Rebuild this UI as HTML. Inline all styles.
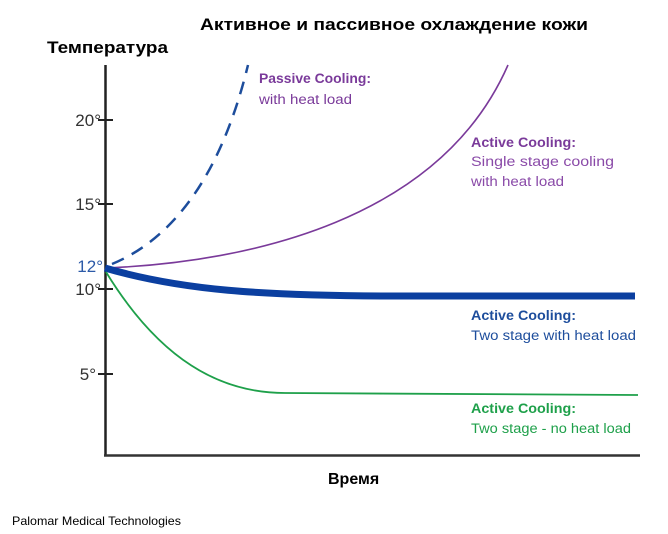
<!DOCTYPE html>
<html><head><meta charset="utf-8"><style>
html,body{margin:0;padding:0;background:#fff;}
svg{display:block;}
</style></head><body>
<svg width="668" height="534" viewBox="0 0 668 534" xmlns="http://www.w3.org/2000/svg">
<text x="394" y="30" text-anchor="middle" font-family="Liberation Sans, sans-serif" font-weight="bold" font-size="17" textLength="388" lengthAdjust="spacingAndGlyphs" fill="#000">Активное и пассивное охлаждение кожи</text>
<text x="47" y="53" font-family="Liberation Sans, sans-serif" font-weight="bold" font-size="17" textLength="121" lengthAdjust="spacingAndGlyphs" fill="#000">Температура</text>
<text x="328" y="484" font-family="Liberation Sans, sans-serif" font-weight="bold" font-size="16" fill="#000">Время</text>
<text x="12" y="525" font-family="Liberation Sans, sans-serif" font-size="12" textLength="169" lengthAdjust="spacingAndGlyphs" fill="#000">Palomar Medical Technologies</text>
<!-- axes -->
<line x1="105.5" y1="65" x2="105.5" y2="456" stroke="#222" stroke-width="2.5"/>
<line x1="104" y1="455.5" x2="640" y2="455.5" stroke="#333" stroke-width="2.5"/>
<g stroke="#222" stroke-width="2">
<line x1="98" y1="120" x2="113" y2="120"/>
<line x1="98" y1="204" x2="113" y2="204"/>
<line x1="98" y1="289" x2="113" y2="289"/>
<line x1="98" y1="374" x2="113" y2="374"/>
</g>
<g font-family="Liberation Sans, sans-serif" font-size="17" fill="#333" text-anchor="end">
<text x="101" y="126">20°</text>
<text x="101" y="210">15°</text>
<text x="101" y="295">10°</text>
<text x="96" y="380">5°</text>
<text x="103" y="272" fill="#2c5aa8">12°</text>
</g>
<!-- curves -->
<path d="M112 264 C170 240 220 180 248 65" fill="none" stroke="#1d4d9c" stroke-width="2.5" stroke-dasharray="13,9"/>
<path d="M106 268 C250 262 440 220 508 65" fill="none" stroke="#7a3a9a" stroke-width="1.6"/>
<path d="M105 268 C180 290 260 296 400 296 L635 296" fill="none" stroke="#0b3fa0" stroke-width="7"/>
<path d="M106 272 C160 360 220 393 285 393 L638 395" fill="none" stroke="#1ea04a" stroke-width="1.8"/>
<!-- labels -->
<g font-family="Liberation Sans, sans-serif" font-size="13.5" lengthAdjust="spacingAndGlyphs">
<text x="259" y="83" fill="#7a3a9a" font-weight="bold" textLength="112" lengthAdjust="spacingAndGlyphs">Passive Cooling:</text>
<text x="259" y="104" fill="#7a3a9a" textLength="93" lengthAdjust="spacingAndGlyphs">with heat load</text>
<text x="471" y="147" fill="#7a3a9a" font-weight="bold" textLength="105" lengthAdjust="spacingAndGlyphs">Active Cooling:</text>
<text x="471" y="166" fill="#8a4aa8" textLength="143" lengthAdjust="spacingAndGlyphs">Single stage cooling</text>
<text x="471" y="186" fill="#8a4aa8" textLength="93" lengthAdjust="spacingAndGlyphs">with heat load</text>
<text x="471" y="320" fill="#1d4d9c" font-weight="bold" textLength="105" lengthAdjust="spacingAndGlyphs">Active Cooling:</text>
<text x="471" y="340" fill="#1d4d9c" textLength="165" lengthAdjust="spacingAndGlyphs">Two stage with heat load</text>
<text x="471" y="413" fill="#1ea04a" font-weight="bold" textLength="105" lengthAdjust="spacingAndGlyphs">Active Cooling:</text>
<text x="471" y="433" fill="#1ea04a" textLength="160" lengthAdjust="spacingAndGlyphs">Two stage - no heat load</text>
</g>
</svg>
</body></html>
